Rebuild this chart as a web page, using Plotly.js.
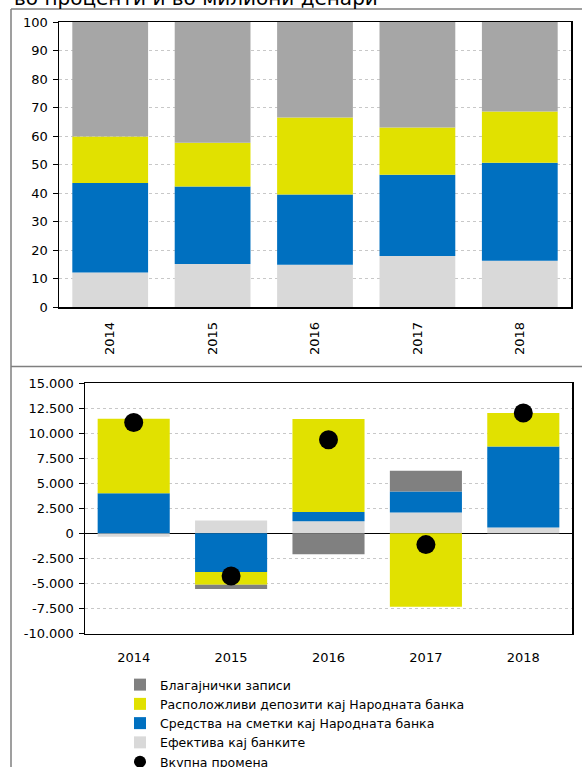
<!DOCTYPE html>
<html>
<head>
<meta charset="utf-8">
<script src="https://cdn.plot.ly/plotly-3.0.1.min.js"></script>
<style>
html,body{margin:0;padding:0;background:#fff;width:582px;height:767px;overflow:hidden;}
#chart{width:582px;height:790px;}
</style>
</head>
<body>
<div id="chart"></div>
<script>
// Categories
const years = ['2014', '2015', '2016', '2017', '2018'];

// Top panel: structure, in percent
const cashShare     = [12.2, 15.2, 14.9, 18.0, 16.3];
const accountsShare = [31.4, 27.1, 24.6, 28.5, 34.4];
const depositsShare = [16.3, 15.4, 27.0, 16.5, 17.9];
const billsShare    = [40.1, 42.3, 33.5, 37.0, 31.4];

// Bottom panel: annual change, in millions of denars
const cashChange     = [-350, 1270, 1200, 2070, 570];
const accountsChange = [4000, -3870, 930, 2100, 8100];
const depositsChange = [7430, -1270, 9270, -7330, 3330];
const billsChange    = [0, -430, -2100, 2070, 0];
const totalChange    = [11050, -4270, 9330, -1130, 12000];

// Labels
const seriesNames = ['Благајнички записи', 'Расположливи депозити кај Народната банка',
  'Средства на сметки кај Народната банка', 'Ефектива кај банките', 'Вкупна промена'];
const topTicks = [0, 10, 20, 30, 40, 50, 60, 70, 80, 90, 100];
const bottomTickVals = [-10000, -7500, -5000, -2500, 0, 2500, 5000, 7500, 10000, 12500, 15000];
const bottomTickText = ['-10.000', '-7.500', '-5.000', '-2.500', '0', '2.500', '5.000', '7.500', '10.000', '12.500', '15.000'];
const headerText = 'во проценти и во милиони денари';

const C_LIGHT = '#D9D9D9', C_BLUE = '#0070C0', C_YELLOW = '#E1E100', C_GRAY_TOP = '#A6A6A6', C_GRAY = '#808080';

// The figure is drawn slightly taller than the 767px window so that, like the
// reference, its last legend row is cut by the bottom edge.
const W = 582, H = 790;
const px = v => v / W;
const py = v => 1 - v / H;

const traces = [
  {type: 'bar', x: years, y: cashShare, marker: {color: C_LIGHT}, xaxis: 'x', yaxis: 'y', showlegend: false, hoverinfo: 'none'},
  {type: 'bar', x: years, y: accountsShare, marker: {color: C_BLUE}, xaxis: 'x', yaxis: 'y', showlegend: false, hoverinfo: 'none'},
  {type: 'bar', x: years, y: depositsShare, marker: {color: C_YELLOW}, xaxis: 'x', yaxis: 'y', showlegend: false, hoverinfo: 'none'},
  {type: 'bar', x: years, y: billsShare, marker: {color: C_GRAY_TOP}, xaxis: 'x', yaxis: 'y', showlegend: false, hoverinfo: 'none'},

  {type: 'bar', name: seriesNames[3], x: years, y: cashChange, marker: {color: C_LIGHT}, xaxis: 'x2', yaxis: 'y2', legendrank: 4},
  {type: 'bar', name: seriesNames[2], x: years, y: accountsChange, marker: {color: C_BLUE}, xaxis: 'x2', yaxis: 'y2', legendrank: 3},
  {type: 'bar', name: seriesNames[1], x: years, y: depositsChange, marker: {color: C_YELLOW}, xaxis: 'x2', yaxis: 'y2', legendrank: 2},
  {type: 'bar', name: seriesNames[0], x: years, y: billsChange, marker: {color: C_GRAY}, xaxis: 'x2', yaxis: 'y2', legendrank: 1},
  {type: 'scatter', mode: 'markers', name: seriesNames[4], x: years, y: totalChange, marker: {color: '#000', size: 19}, xaxis: 'x2', yaxis: 'y2', legendrank: 5, cliponaxis: false}
];

const font = {family: 'DejaVu Sans, Verdana, sans-serif', size: 13, color: '#000'};

const layout = {
  width: W, height: H,
  autosize: false,
  margin: {l: 0, r: 0, t: 0, b: 0, pad: 0},
  paper_bgcolor: '#fff', plot_bgcolor: '#fff',
  font: font,
  barmode: 'relative',
  bargap: 0.26,
  showlegend: true,
  legend: {x: px(120), y: py(670), xanchor: 'left', yanchor: 'top', font: {family: font.family, size: 12.5, color: '#000'},
           itemsizing: 'constant', tracegroupgap: 0, bgcolor: 'rgba(0,0,0,0)'},
  xaxis: {domain: [px(59), px(571)], anchor: 'y', type: 'category', tickangle: -90, ticks: '', showgrid: false,
          showline: true, linecolor: '#000', linewidth: 1.5, mirror: true, ticklabelstandoff: 8, fixedrange: true},
  yaxis: {domain: [py(307.3), py(22)], anchor: 'x', range: [0, 100], tickvals: topTicks, ticks: 'outside', ticklen: 5,
          tickcolor: '#000', showline: true, linecolor: '#000', linewidth: 1.5, mirror: true,
          showgrid: true, gridcolor: '#C8C8C8', griddash: 'dot', gridwidth: 1, zeroline: false, ticklabelstandoff: 2, fixedrange: true},
  xaxis2: {domain: [px(85), px(572)], anchor: 'y2', type: 'category', ticks: '', showgrid: false,
           showline: true, linecolor: '#000', linewidth: 1.5, mirror: true, ticklabelstandoff: 11, fixedrange: true},
  yaxis2: {domain: [py(633.5), py(383)], anchor: 'x2', range: [-10000, 15000], tickvals: bottomTickVals, ticktext: bottomTickText,
           ticks: 'outside', ticklen: 5, tickcolor: '#000', showline: true, linecolor: '#000', linewidth: 1.5, mirror: true,
           showgrid: true, gridcolor: '#C8C8C8', griddash: 'dot', gridwidth: 1,
           zeroline: true, zerolinecolor: '#000', zerolinewidth: 1.5, ticklabelstandoff: 2, fixedrange: true},
  shapes: [
    {type: 'line', xref: 'paper', yref: 'paper', x0: px(11), x1: px(11), y0: py(9), y1: py(H), line: {color: '#7F7F7F', width: 1.5}},
    {type: 'line', xref: 'paper', yref: 'paper', x0: px(11), x1: px(582), y0: py(9), y1: py(9), line: {color: '#7F7F7F', width: 1.5}},
    {type: 'line', xref: 'paper', yref: 'paper', x0: px(11), x1: px(582), y0: py(366.5), y1: py(366.5), line: {color: '#7F7F7F', width: 1.5}}
  ],
  annotations: [
    {text: headerText, xref: 'paper', yref: 'paper', x: px(12), y: py(-1.5), xanchor: 'left', yanchor: 'middle',
     showarrow: false, font: {family: font.family, size: 20, color: '#000'}}
  ]
};

Plotly.newPlot('chart', traces, layout, {displayModeBar: false, staticPlot: true});
</script>
</body>
</html>
